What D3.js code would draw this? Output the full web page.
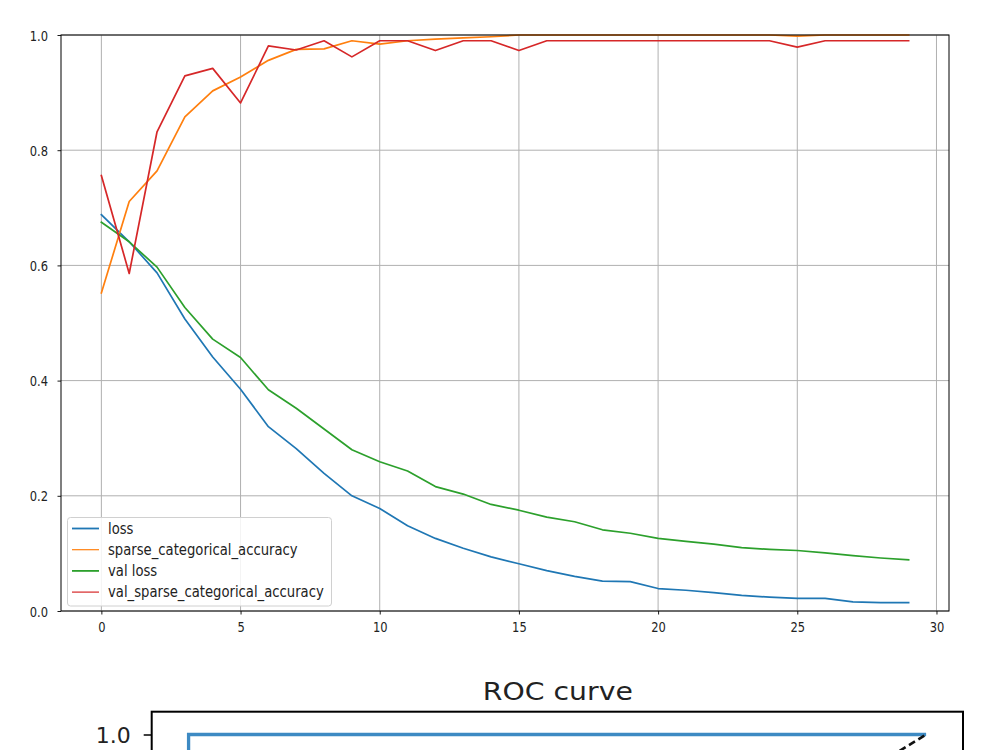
<!DOCTYPE html>
<html>
<head>
<meta charset="utf-8">
<script src="https://cdn.jsdelivr.net/npm/d3@7"></script>
<style>
  html, body { margin: 0; padding: 0; background: #fff; }
  svg { display: block; }
  text { font-family: "DejaVu Sans", sans-serif; fill: #222; }
</style>
</head>
<body>
<svg id="chart" width="1000" height="750"></svg>
<script>
// ---- Data ----
const epochs = d3.range(0, 30);
const loss = [0.688, 0.641, 0.587, 0.507, 0.441, 0.385, 0.320, 0.282, 0.239, 0.200,
              0.178, 0.148, 0.126, 0.109, 0.094, 0.082, 0.070, 0.060, 0.052, 0.051,
              0.039, 0.036, 0.032, 0.027, 0.024, 0.022, 0.022, 0.016, 0.0145, 0.0145];
const sparseAcc = [0.552, 0.711, 0.764, 0.858, 0.903, 0.927, 0.956, 0.975, 0.976, 0.990,
                   0.984, 0.990, 0.993, 0.995, 0.997, 1.000, 1.000, 1.000, 1.000, 1.000,
                   1.000, 1.000, 1.000, 1.000, 1.000, 0.998, 1.000, 1.000, 1.000, 1.000];
const valLoss = [0.675, 0.641, 0.597, 0.527, 0.472, 0.440, 0.384, 0.352, 0.316, 0.280,
                 0.259, 0.243, 0.216, 0.203, 0.185, 0.175, 0.163, 0.155, 0.141, 0.135,
                 0.126, 0.121, 0.116, 0.110, 0.107, 0.105, 0.101, 0.096, 0.092, 0.089];
const valSparseAcc = [0.756, 0.586, 0.832, 0.929, 0.942, 0.882, 0.981, 0.974, 0.990, 0.962,
                      0.990, 0.990, 0.973, 0.990, 0.990, 0.973, 0.990, 0.990, 0.990, 0.990,
                      0.990, 0.990, 0.990, 0.990, 0.990, 0.979, 0.990, 0.990, 0.990, 0.990];
const seriesNames = ["loss", "sparse_categorical_accuracy", "val_loss", "val_sparse_categorical_accuracy"];
const legendLabels = ["loss", "sparse_categorical_accuracy", "val  loss", "val_sparse_categorical_accuracy"];
const seriesColors = ["#1f77b4", "#ff7f0e", "#2ca02c", "#d62728"];
const xTicks = [0, 5, 10, 15, 20, 25, 30];
const yTicks = [0.0, 0.2, 0.4, 0.6, 0.8, 1.0];

// ROC data
const rocFpr = [0, 0, 1];
const rocTpr = [0, 1, 1];
const rocDiagX = [0, 1];
const rocDiagY = [0, 1];
const rocTitle = "ROC curve";
const rocYTicks = [1.0];

const svg = d3.select("#chart");
svg.append("rect").attr("width", 1000).attr("height", 750).attr("fill", "#fff");

// ---- Top chart ----
const L = 61, R = 949, T = 35, B = 611;
const SY = 1.3; // vertical stretch of text in reference
const x = d3.scaleLinear().domain([-1.45, 30.45]).range([L, R]);
const y = d3.scaleLinear().domain([0, 1]).range([B, T]);

const g = svg.append("g");
// grid
g.append("g").selectAll("line").data(xTicks).join("line")
  .attr("x1", d => x(d)).attr("x2", d => x(d)).attr("y1", T).attr("y2", B)
  .attr("stroke", "#b0b0b0").attr("stroke-width", 1);
g.append("g").selectAll("line").data(yTicks).join("line")
  .attr("x1", L).attr("x2", R).attr("y1", d => y(d)).attr("y2", d => y(d))
  .attr("stroke", "#b0b0b0").attr("stroke-width", 1);

// lines
const allSeries = [loss, sparseAcc, valLoss, valSparseAcc];
const line = d3.line().x((d, i) => x(epochs[i])).y(d => y(d));
svg.append("clipPath").attr("id", "clipTop").append("rect")
  .attr("x", L).attr("y", T - 2).attr("width", R - L).attr("height", B - T + 2);
allSeries.forEach((s, k) => {
  g.append("path").datum(s).attr("d", line).attr("fill", "none")
    .attr("stroke", seriesColors[k]).attr("stroke-width", 1.7)
    .attr("stroke-linejoin", "round").attr("stroke-linecap", "square")
    .attr("clip-path", "url(#clipTop)");
});

// axes
const xAxis = g.append("g").attr("transform", `translate(0,${B})`)
  .call(d3.axisBottom(x).tickValues(xTicks).tickSize(3.5).tickSizeOuter(0).tickFormat(d3.format("d")));
xAxis.select(".domain").remove();
xAxis.selectAll(".tick line").attr("stroke", "#000").attr("stroke-width", 0.9);
xAxis.selectAll(".tick text").attr("y", 0).attr("dy", null)
  .attr("dominant-baseline", "central")
  .attr("transform", `translate(0,16) scale(1,${SY})`)
  .style("font-size", "11.5px").style("font-family", "DejaVu Sans").attr("fill", "#222");

const yAxis = g.append("g").attr("transform", `translate(${L},0)`)
  .call(d3.axisLeft(y).tickValues(yTicks).tickSize(3.5).tickSizeOuter(0).tickFormat(d3.format(".1f")));
yAxis.select(".domain").remove();
yAxis.selectAll(".tick line").attr("stroke", "#000").attr("stroke-width", 0.9);
yAxis.selectAll(".tick text").attr("x", 0).attr("dy", null)
  .attr("dominant-baseline", "central")
  .attr("transform", `translate(-13,0) scale(1,${SY})`)
  .style("font-size", "11.5px").style("font-family", "DejaVu Sans").attr("fill", "#222");

// frame
g.append("rect").attr("x", L).attr("y", T).attr("width", R - L).attr("height", B - T)
  .attr("fill", "none").attr("stroke", "#000").attr("stroke-width", 1);

// legend
const lg = g.append("g");
lg.append("rect").attr("x", 67.5).attr("y", 517.5).attr("width", 264).attr("height", 88.5)
  .attr("rx", 3).attr("fill", "#fff").attr("fill-opacity", 0.85)
  .attr("stroke", "#d0d0d0").attr("stroke-width", 1);
legendLabels.forEach((lab, k) => {
  const cy = 528.5 + k * 21.2;
  lg.append("line").attr("x1", 72).attr("x2", 99).attr("y1", cy).attr("y2", cy)
    .attr("stroke", seriesColors[k]).attr("stroke-width", k === 0 || k === 2 ? 1.8 : 1.2);
  lg.append("text").attr("transform", `translate(108,${cy}) scale(1,1.16)`)
    .attr("dominant-baseline", "central").style("font-size", "13.2px").text(lab);
});

// ---- ROC chart (partially visible) ----
const rL = 151.7, rR = 963, rT = 711.7;
const rx = d3.scaleLinear().domain([-0.05, 1.05]).range([rL, rR]);
const ry = d3.scaleLinear().domain([-0.05, 1.05]).range([rT + 1.1 * 456, rT]);
const rg = svg.append("g");
rg.append("text").attr("x", (rL + rR) / 2 + 0.5).attr("y", 700).attr("text-anchor", "middle")
  .style("font-size", "25px")
  .attr("textLength", 150).attr("lengthAdjust", "spacingAndGlyphs").text(rocTitle);

const rocLine = d3.line().x((d, i) => rx(rocFpr[i])).y(d => ry(d));
rg.append("path").datum(rocTpr).attr("d", rocLine).attr("fill", "none")
  .attr("stroke", "#3d8ac3").attr("stroke-width", 3.3);
const diag = d3.line().x((d, i) => rx(rocDiagX[i])).y(d => ry(d));
rg.append("path").datum(rocDiagY).attr("d", diag).attr("fill", "none")
  .attr("stroke", "#111").attr("stroke-width", 2.6).attr("stroke-dasharray", "7,4");

const rAxis = rg.append("g").attr("transform", `translate(${rL},0)`)
  .call(d3.axisLeft(ry).tickValues(rocYTicks).tickSize(8).tickSizeOuter(0).tickFormat(d3.format(".1f")));
rAxis.select(".domain").remove();
rAxis.selectAll(".tick line").attr("stroke", "#000").attr("stroke-width", 1.5);
rAxis.selectAll(".tick text").attr("x", -21).attr("dy", "0.35em")
  .style("font-size", "22px").attr("fill", "#222");

rg.append("rect").attr("x", rL).attr("y", rT).attr("width", rR - rL).attr("height", 200)
  .attr("fill", "none").attr("stroke", "#000").attr("stroke-width", 2);
</script>
</body>
</html>
